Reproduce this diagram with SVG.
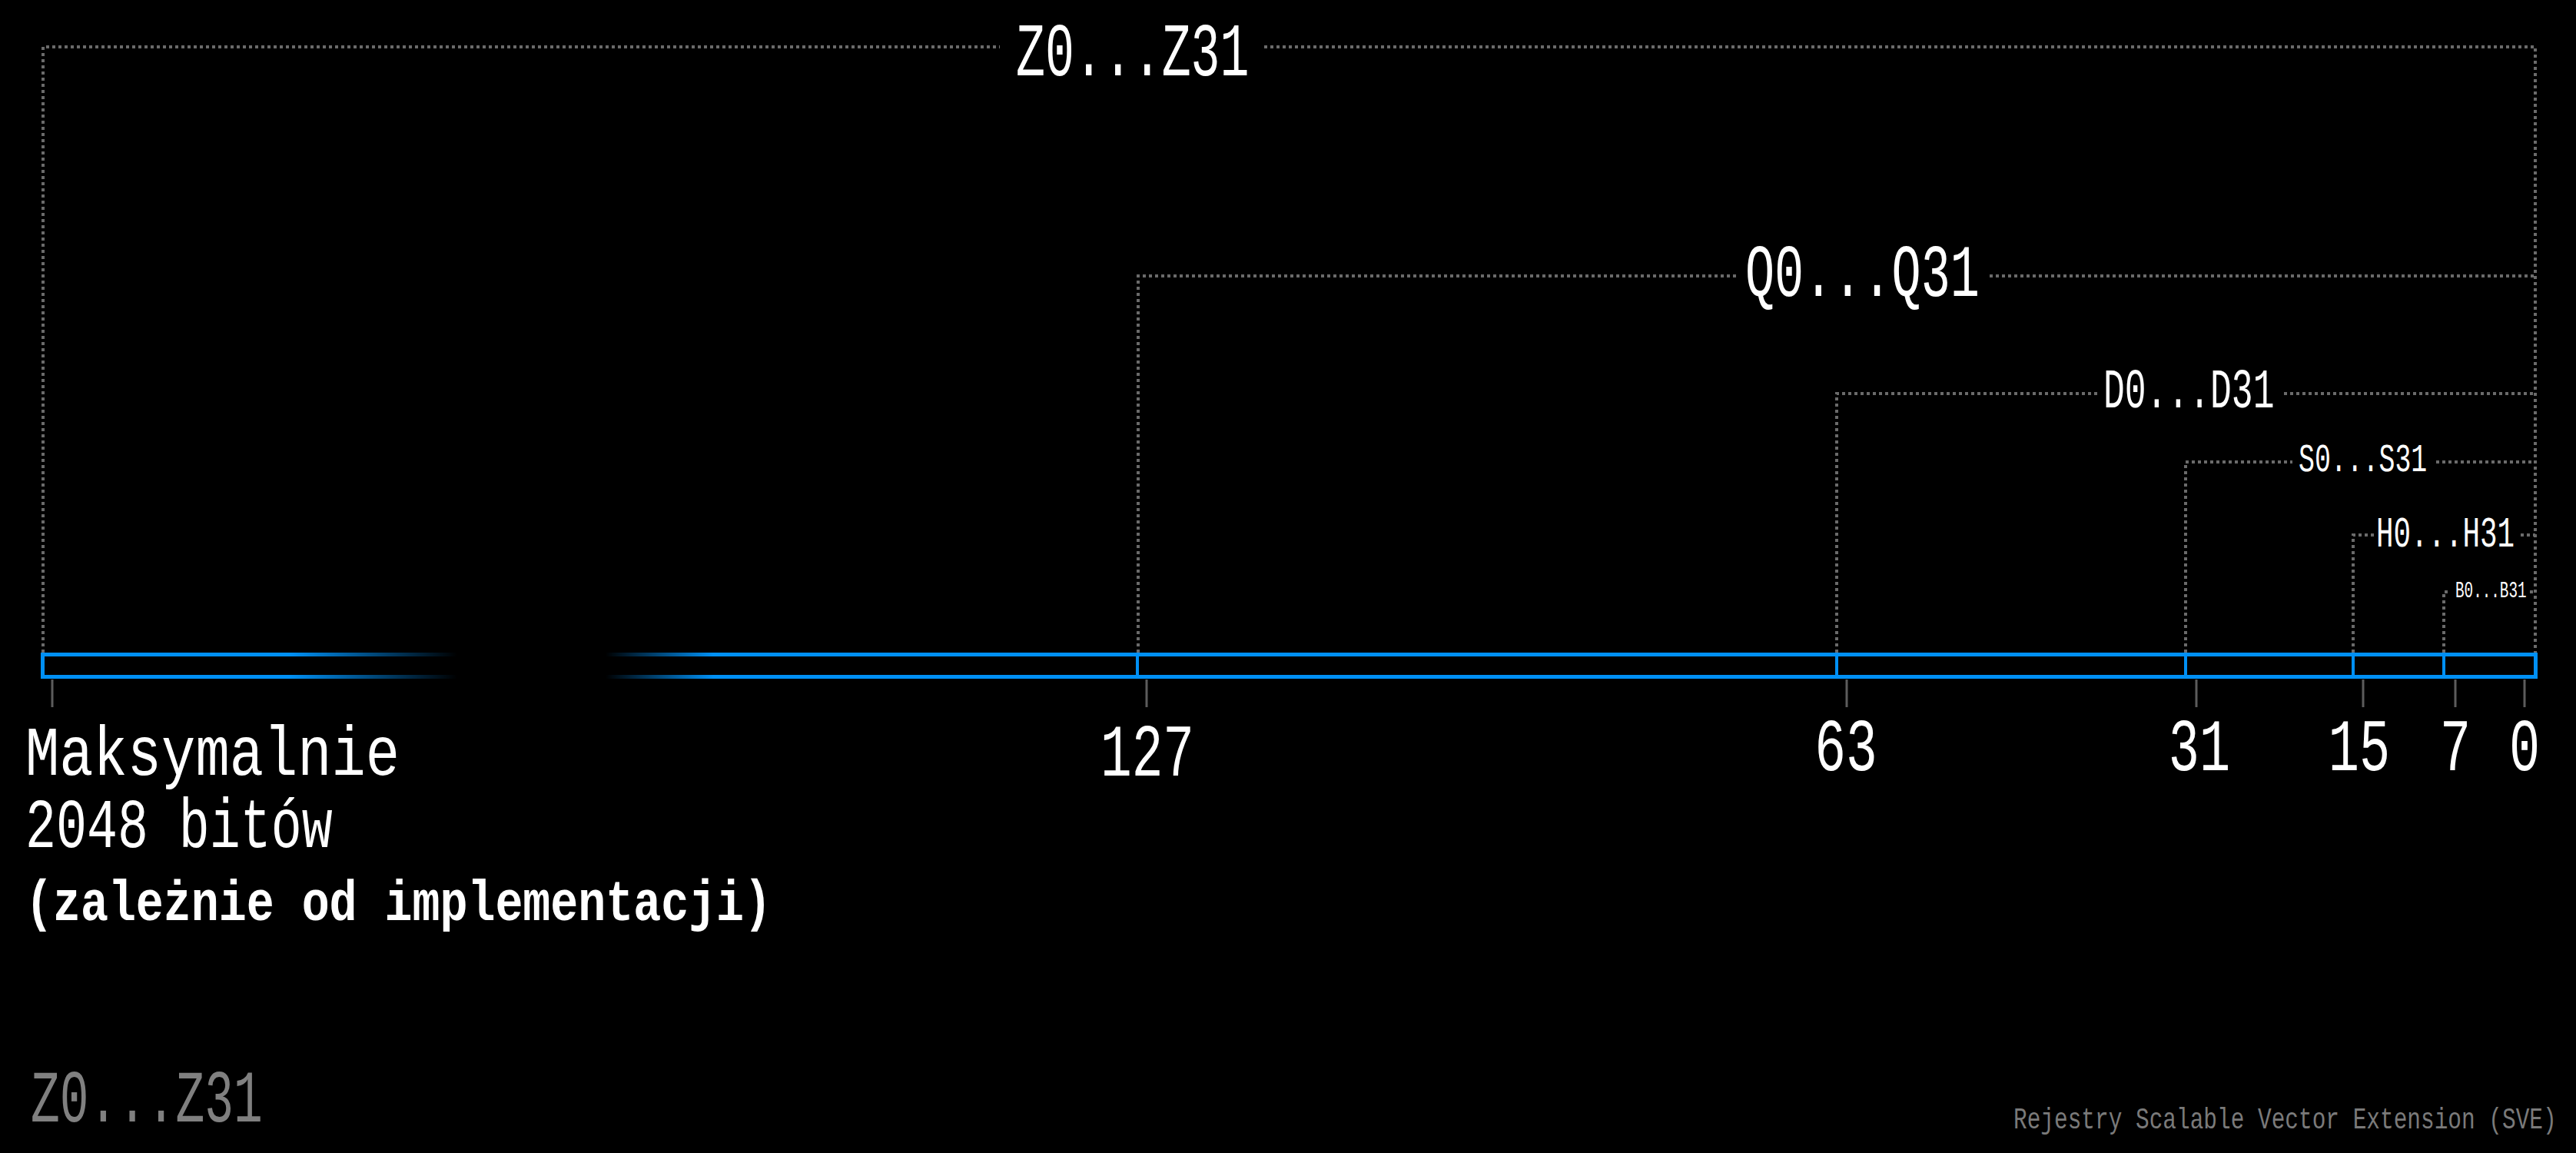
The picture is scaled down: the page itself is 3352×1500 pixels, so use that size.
<svg xmlns="http://www.w3.org/2000/svg" width="3352" height="1500" viewBox="0 0 3352 1500">
<style>
.lbl{font-family:"Liberation Mono","DejaVu Sans Mono",monospace;fill:#ffffff;}
.gray{fill:#808080;}
.foot{fill:#7a7a7a;}
.num{text-anchor:middle;}
.dot{fill:none;stroke:#6a6a6a;stroke-width:4;stroke-dasharray:4 4;}
.tick{stroke:#5c5c5c;stroke-width:3;}
.div{stroke:#0090f5;stroke-width:4;}
</style>
<defs>
<linearGradient id="fade" gradientUnits="userSpaceOnUse" x1="0" y1="0" x2="3352" y2="0">
<stop offset="0" stop-color="#0090f5" stop-opacity="1"/>
<stop offset="0.1125" stop-color="#0090f5" stop-opacity="1"/>
<stop offset="0.1775" stop-color="#0090f5" stop-opacity="0"/>
<stop offset="0.235" stop-color="#0090f5" stop-opacity="0"/>
<stop offset="0.277" stop-color="#0090f5" stop-opacity="1"/>
<stop offset="1" stop-color="#0090f5" stop-opacity="1"/>
</linearGradient>
</defs>
<rect x="0" y="0" width="3352" height="1500" fill="#000000"/>

<g id="connectors">
<path class="dot" d="M56,849 V61 H1301"/>
<path class="dot" d="M1645,61 H3299 V849"/>
<path class="dot" d="M1481,849 V359 H2262"/>
<path class="dot" d="M2589,359 H3299"/>
<path class="dot" d="M2390,849 V512 H2729"/>
<path class="dot" d="M2972,512 H3299"/>
<path class="dot" d="M2844,849 V601 H2983"/>
<path class="dot" d="M3170,601 H3299"/>
<path class="dot" d="M3062,849 V696 H3089"/>
<path class="dot" d="M3280,696 H3299"/>
<path class="dot" d="M3180,849 V770 H3188"/>
<path class="dot" d="M3292,770 H3299"/>
</g>

<g id="reg-z"><text class="lbl" transform="translate(1322,98) scale(0.645,1)" font-size="98">Z0...Z31</text></g>
<g id="reg-q"><text class="lbl" transform="translate(2271,385) scale(0.655,1)" font-size="97">Q0...Q31</text></g>
<g id="reg-d"><text class="lbl" transform="translate(2737,530) scale(0.635,1)" font-size="73">D0...D31</text></g>
<g id="reg-s"><text class="lbl" transform="translate(2991,613) scale(0.67,1)" font-size="52">S0...S31</text></g>
<g id="reg-h"><text class="lbl" transform="translate(3092,711) scale(0.67,1)" font-size="56">H0...H31</text></g>
<g id="reg-b"><text class="lbl" transform="translate(3195,777) scale(0.665,1)" font-size="29">B0...B31</text></g>

<g id="bar">
<rect x="55.5" y="851.5" width="3244" height="29" fill="none" stroke="url(#fade)" stroke-width="5"/>
<line class="div" x1="1480" y1="852" x2="1480" y2="880"/>
<line class="div" x1="2390" y1="852" x2="2390" y2="880"/>
<line class="div" x1="2844" y1="852" x2="2844" y2="880"/>
<line class="div" x1="3062" y1="852" x2="3062" y2="880"/>
<line class="div" x1="3180" y1="852" x2="3180" y2="880"/>
</g>

<g id="ticks">
<line class="tick" x1="68" y1="884" x2="68" y2="920"/>
<line class="tick" x1="1492" y1="884" x2="1492" y2="920"/>
<line class="tick" x1="2403" y1="884" x2="2403" y2="920"/>
<line class="tick" x1="2858" y1="884" x2="2858" y2="920"/>
<line class="tick" x1="3075" y1="884" x2="3075" y2="920"/>
<line class="tick" x1="3195" y1="884" x2="3195" y2="920"/>
<line class="tick" x1="3285" y1="884" x2="3285" y2="920"/>
</g>

<g id="bit-labels">
<text class="lbl num" transform="translate(1493,1009) scale(0.7,1)" font-size="97">127</text>
<text class="lbl num" transform="translate(2402,1002) scale(0.7,1)" font-size="97">63</text>
<text class="lbl num" transform="translate(2862,1002) scale(0.69,1)" font-size="97">31</text>
<text class="lbl num" transform="translate(3070,1002) scale(0.69,1)" font-size="97">15</text>
<text class="lbl num" transform="translate(3195,1002) scale(0.69,1)" font-size="97">7</text>
<text class="lbl num" transform="translate(3285,1002) scale(0.69,1)" font-size="97">0</text>
</g>

<g id="max-label">
<text class="lbl" transform="translate(33,1008) scale(0.82,1)" font-size="90">Maksymalnie</text>
<text class="lbl" transform="translate(33,1102) scale(0.74,1)" font-size="90">2048 bitów</text>
<text class="lbl" transform="translate(33,1197) scale(0.81,1)" font-size="74" font-weight="bold">(zależnie od implementacji)</text>
</g>

<g id="footer">
<text class="lbl gray" transform="translate(40,1459) scale(0.648,1)" font-size="97">Z0...Z31</text>
<text class="lbl foot" transform="translate(2620,1468) scale(0.755,1)" font-size="39">Rejestry Scalable Vector Extension (SVE)</text>
</g>
</svg>
